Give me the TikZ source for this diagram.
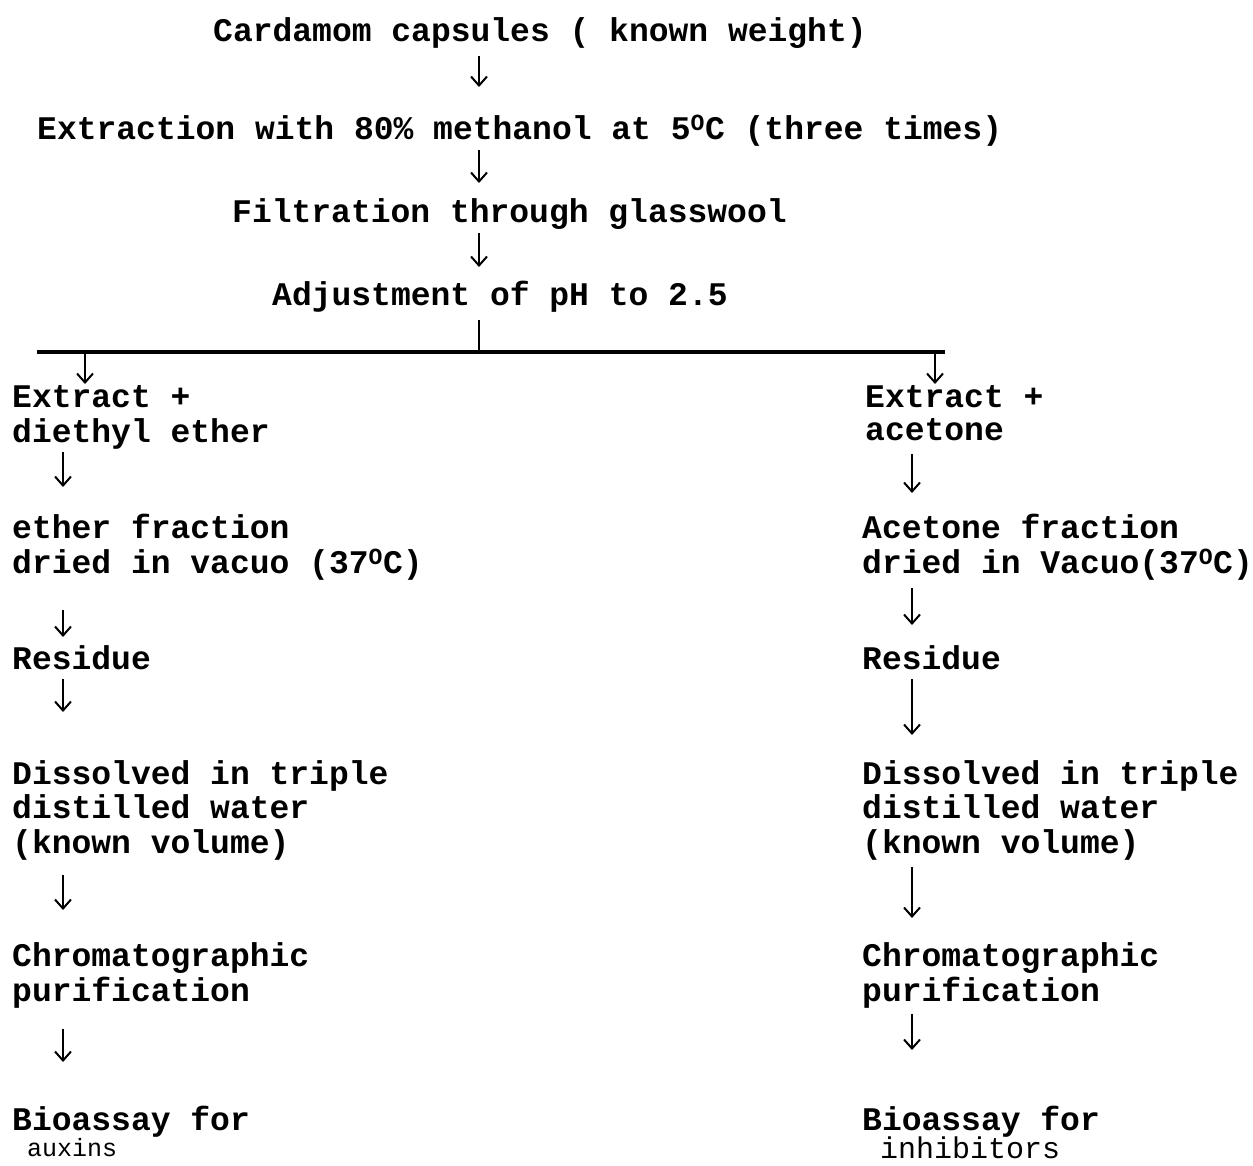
\documentclass[tikz,border=0pt]{standalone}
\usepackage{fontspec}
\setmainfont{Liberation Mono}
\usetikzlibrary{arrows.meta}
\newcommand{\degsup}{\textsuperscript{O}}
\begin{document}
\begin{tikzpicture}[x=1pt,y=-1pt,
  lbl/.style={anchor=north west, inner sep=0pt, align=left, font=\fontsize{33}{33}\selectfont\bfseries},
  arr/.style={line width=2.4pt, -{Straight Barb[length=9pt,width=16pt,line width=2pt]}},
  plainline/.style={line width=2.6pt},
  barline/.style={line width=3.5pt}]
\useasboundingbox (0,0) rectangle (1253,1165);
\fill[white] (0,0) rectangle (1253,1165);
% column coordinates
\coordinate (cx) at (479,0);
\coordinate (lx) at (63,0);
\coordinate (rx) at (912,0);
\coordinate (split) at (479,352);
\coordinate (hl) at (37,352);
\coordinate (hr) at (945,352);
\coordinate (bl) at (85,352);
\coordinate (br) at (935,352);
% central chain
\node[lbl] (cap) at (213,17) {\strut Cardamom capsules ( known weight)};
\node[lbl] (ext) at (37,115) {\strut Extraction with 80\% methanol at 5\degsup C (three times)};
\node[lbl] (fil) at (232,198) {\strut Filtration through glasswool};
\node[lbl] (adj) at (272,281) {\strut Adjustment of pH to 2.5};
% left column
\node[lbl] (le) at (12,384) {\strut Extract +\\\strut diethyl ether};
\node[lbl] (lf) at (12,514) {\strut ether fraction\\\strut dried in vacuo (37\degsup C)};
\node[lbl] (lr) at (12,645) {\strut Residue};
\node[lbl] (ld) at (12,760) {\strut Dissolved in triple\\\strut distilled water\\\strut (known volume)};
\node[lbl] (lc) at (12,942) {\strut Chromatographic\\\strut purification};
\node[lbl] (lb) at (12,1106) {\strut Bioassay for\\[-7pt]{\fontsize{25}{24}\selectfont\mdseries\strut\ auxins}};
% right column
\node[lbl] (re) at (865,384) {\strut Extract +\\\strut acetone};
\node[lbl] (rf) at (862,514) {\strut Acetone fraction\\\strut dried in Vacuo(37\degsup C)};
\node[lbl] (rr) at (862,645) {\strut Residue};
\node[lbl] (rd) at (862,760) {\strut Dissolved in triple\\\strut distilled water\\\strut (known volume)};
\node[lbl] (rc) at (862,942) {\strut Chromatographic\\\strut purification};
\node[lbl] (rb) at (862,1106) {\strut Bioassay for\\[-5pt]{\fontsize{30}{30}\selectfont\mdseries\strut\ inhibitors}};
% central connectors
\draw[arr, shorten <=5pt, shorten >=28pt] (cap.south -| cx) -- (ext.north -| cx);
\draw[arr, shorten >=15pt] (ext.south -| cx) -- (fil.north -| cx);
\draw[arr, shorten <=1pt, shorten >=14pt] (fil.south -| cx) -- (adj.north -| cx);
\draw[plainline, shorten <=4pt] (adj.south -| cx) -- (split);
\draw[barline] (hl) -- (hr);
\draw[arr, line width=1.8pt] (bl) -- (le.north -| bl);
\draw[arr, line width=1.8pt] (br) -- (re.north -| br);
% left connectors
\draw[arr, shorten >=27pt] (le.south -| lx) -- (lf.north -| lx);
\draw[arr, shorten <=26pt, shorten >=8pt] (lf.south -| lx) -- (lr.north -| lx);
\draw[arr, shorten >=48pt] (lr.south -| lx) -- (ld.north -| lx);
\draw[arr, shorten <=11pt, shorten >=32pt] (ld.south -| lx) -- (lc.north -| lx);
\draw[arr, shorten <=17pt, shorten >=44pt] (lc.south -| lx) -- (lb.north -| lx);
% right connectors
\draw[arr, shorten <=4pt, shorten >=21pt] (re.south -| rx) -- (rf.north -| rx);
\draw[arr, shorten <=4pt, shorten >=20pt] (rf.south -| rx) -- (rr.north -| rx);
\draw[arr, shorten >=25pt] (rr.south -| rx) -- (rd.north -| rx);
\draw[arr, shorten <=3pt, shorten >=24pt] (rd.south -| rx) -- (rc.north -| rx);
\draw[arr, shorten <=2pt, shorten >=56pt] (rc.south -| rx) -- (rb.north -| rx);
\end{tikzpicture}
\end{document}
